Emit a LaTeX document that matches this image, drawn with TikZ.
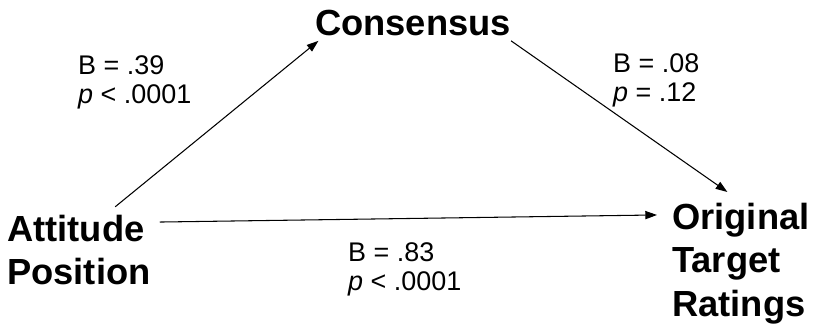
\documentclass[tikz,border=0pt]{standalone}
\usepackage{fontspec}
\setmainfont{Liberation Sans}
\usetikzlibrary{arrows.meta}

\tikzset{
    var/.style={inner sep=0pt, align=left, font=\fontsize{31}{37}\selectfont\bfseries},
    coef/.style={inner sep=0pt, align=left, font=\fontsize{23}{25}\selectfont},
    path/.style={-{Triangle[length=10pt,width=7pt]}, line width=0.9pt}
}

\begin{document}
\begin{tikzpicture}[x=0.03cm, y=-0.03cm]
    \useasboundingbox (0,0) rectangle (822,324);

    % Variables
    \node[var, anchor=north] (cons) at (413,10) {Consensus};
    \node[var, anchor=north west] (att) at (7,215) {Attitude\\Position};
    \node[var, anchor=north west] (orig) at (672,203) {Original\\Target\\Ratings};

    % Coefficients
    \node[coef, anchor=north west] (b1) at (78,55) {B = .39\\\textit{p} < .0001};
    \node[coef, anchor=north west] (b2) at (613,53) {B = .08\\\textit{p} = .12};
    \node[coef, anchor=north west] (b3) at (348,242) {B = .83\\\textit{p} < .0001};

    % Paths
    \draw[path] ([xshift=31pt,yshift=7pt]att.north) -- ([xshift=3pt,yshift=-4pt]cons.south west);
    \draw[path] ([yshift=-4pt]cons.south east) -- ([xshift=-11.5pt,yshift=9.4pt]orig.north);
    \draw[path] ([xshift=7.7pt,yshift=-6pt]att.north east) -- ([xshift=-12.8pt,yshift=-10.2pt]orig.north west);
\end{tikzpicture}
\end{document}
